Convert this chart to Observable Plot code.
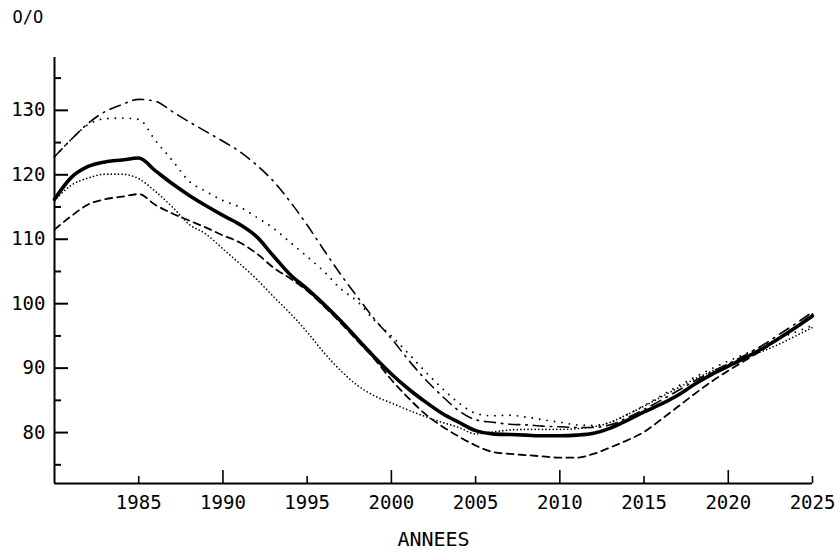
<!DOCTYPE html>
<html>
<head>
<meta charset="utf-8">
<script src="https://cdn.jsdelivr.net/npm/d3@7"></script>
<script src="https://cdn.jsdelivr.net/npm/@observablehq/plot@0.6"></script>
<style>
  html, body { margin: 0; padding: 0; background: #fff; }
  svg { display: block; }
</style>
</head>
<body>
<div id="chart"></div>
<script>
// ---- data ----
const years = [1980,1981,1982,1983,1984,1985,1986,1987,1988,1989,
               1990,1991,1992,1993,1994,1995,1996,1997,1998,1999,
               2000,2001,2002,2003,2004,2005,2006,2007,2008,2009,
               2010,2011,2012,2013,2014,2015,2016,2017,2018,2019,
               2020,2021,2022,2023,2024,2025];

const solid = [116.2,119.6,121.3,122.0,122.3,122.6,120.6,118.6,116.8,115.2,
               113.7,112.3,110.4,107.4,104.5,102.3,99.9,97.3,94.5,91.7,
               89.1,86.8,84.8,83.0,81.6,80.3,79.8,79.7,79.6,79.5,
               79.5,79.6,79.9,80.7,81.9,83.2,84.4,85.8,87.5,89.0,
               90.3,91.6,93.0,94.6,96.3,98.1];

const dashDot = [122.8,125.5,128.0,129.8,130.9,131.7,131.4,129.8,128.2,126.7,
                 125.2,123.6,121.5,119.0,115.8,112.2,108.3,104.5,101.0,97.6,
                 94.6,91.3,88.3,85.7,83.4,82.0,81.6,81.3,81.2,81.0,
                 80.9,80.8,80.8,81.2,82.3,83.6,85.0,86.5,88.0,89.4,
                 90.7,92.0,93.5,95.2,96.9,98.7];

const sparseDot = [122.8,125.5,127.8,128.7,128.8,128.6,125.3,122.2,119.0,117.4,
                   116.0,115.0,113.4,111.7,109.5,107.3,105.0,102.3,100.3,97.4,
                   95.0,92.3,89.5,86.9,84.6,83.0,82.6,82.7,82.4,82.0,
                   81.6,81.2,81.1,81.6,82.8,84.2,85.7,87.2,88.6,89.9,
                   91.1,92.2,93.4,94.6,95.6,96.6];

const denseDot = [116.0,118.4,119.5,120.1,120.1,119.4,117.4,115.0,112.3,110.8,
                  108.5,106.2,103.8,101.1,98.5,95.6,92.4,89.6,87.3,85.7,
                  84.6,83.5,82.5,81.6,80.8,79.8,80.1,80.4,80.5,80.5,
                  80.5,80.6,80.9,81.6,82.8,84.1,85.5,86.9,88.3,89.5,
                  90.6,91.6,92.6,93.7,95.0,96.3];

const dashed = [111.5,113.6,115.4,116.2,116.6,117.0,115.3,114.0,112.9,111.8,
                110.6,109.5,107.8,105.6,103.9,102.0,99.6,97.0,94.2,91.4,
                88.2,85.4,82.9,81.0,79.4,78.0,77.0,76.7,76.5,76.3,
                76.1,76.1,76.7,77.7,78.8,80.1,82.0,84.0,86.0,87.9,
                89.6,91.2,92.8,94.6,96.4,98.4];

const yLabels = [80, 90, 100, 110, 120, 130];
const yMinor  = [75, 85, 95, 105, 115, 125, 135];
const xLabels = [1985, 1990, 1995, 2000, 2005, 2010, 2015, 2020, 2025];
const xMajor  = [1990, 2000, 2010, 2020];
const xMinor  = [1985, 1995, 2005, 2015, 2025];
const xDomain = [1980, 2025];
const yDomain = [72.1, 138.2];
const yTitle = "O/O";
const xTitle = "ANNEES";

// ---- build tidy table ----
const toRows = (name, vals) => years.map((year, i) => ({series: name, year, value: vals[i]}));
const rows = [
  ...toRows("solid", solid),
  ...toRows("dashDot", dashDot),
  ...toRows("sparseDot", sparseDot),
  ...toRows("denseDot", denseDot),
  ...toRows("dashed", dashed)
];
const only = (name) => rows.filter(d => d.series === name);

// ---- layout ----
const W = 835, H = 553;
const mL = 54, mR = 23, mT = 57, mB = 70;
const frameW = W - mL - mR;   // 758
const frameH = H - mT - mB;   // 426

const chart = Plot.plot({
  width: W,
  height: H,
  marginLeft: mL,
  marginRight: mR,
  marginTop: mT,
  marginBottom: mB,
  style: {
    fontFamily: "'DejaVu Sans Mono', 'Liberation Mono', monospace",
    fontSize: "19px",
    color: "#000",
    background: "#fff",
    overflow: "visible"
  },
  x: {domain: xDomain, label: null},
  y: {domain: yDomain, label: null},
  marks: [
    // tick labels
    Plot.axisY(yLabels, {tickSize: 0, tickPadding: 9, label: null, tickFormat: d3.format("d")}),
    Plot.axisX(xLabels, {tickSize: 0, tickPadding: 12, label: null, tickFormat: d3.format("d")}),
    // inward ticks
    Plot.tickY(yLabels, {y: d => d, insetRight: frameW - 14, strokeWidth: 2, stroke: "#000"}),
    Plot.tickY(yMinor, {y: d => d, insetRight: frameW - 7, strokeWidth: 2, stroke: "#000"}),
    Plot.tickX(xMajor, {x: d => d, insetTop: frameH - 13, strokeWidth: 1.6, stroke: "#000"}),
    Plot.tickX(xMinor, {x: d => d, insetTop: frameH - 7, strokeWidth: 1.6, stroke: "#000"}),
    // axis lines
    Plot.ruleX([xDomain[0]], {strokeWidth: 2, stroke: "#000"}),
    Plot.ruleY([yDomain[0]], {strokeWidth: 2, stroke: "#000"}),
    // series
    Plot.line(only("denseDot"), {x: "year", y: "value", stroke: "#000", strokeWidth: 1.7,
      strokeDasharray: "0,3.6", strokeLinecap: "round", curve: "monotone-x"}),
    Plot.line(only("sparseDot"), {x: "year", y: "value", stroke: "#000", strokeWidth: 1.9,
      strokeDasharray: "0,7.5", strokeLinecap: "round", curve: "monotone-x"}),
    Plot.line(only("dashed"), {x: "year", y: "value", stroke: "#000", strokeWidth: 1.8,
      strokeDasharray: "7,5", curve: "monotone-x"}),
    Plot.line(only("dashDot"), {x: "year", y: "value", stroke: "#000", strokeWidth: 1.6,
      strokeDasharray: "11,6,1.5,6", curve: "monotone-x"}),
    Plot.line(only("solid"), {x: "year", y: "value", stroke: "#000", strokeWidth: 3.6,
      strokeLinejoin: "round", curve: "monotone-x"}),
    // titles
    Plot.text([yTitle], {text: d => d, frameAnchor: "top-left", dx: -42, dy: -47,
      textAnchor: "start", lineAnchor: "top", fontSize: 17, fill: "#000"}),
    Plot.text([xTitle], {text: d => d, frameAnchor: "bottom", dy: 48,
      lineAnchor: "top", fontSize: 20, fill: "#000"})
  ]
});

document.getElementById("chart").appendChild(chart);
</script>
</body>
</html>
